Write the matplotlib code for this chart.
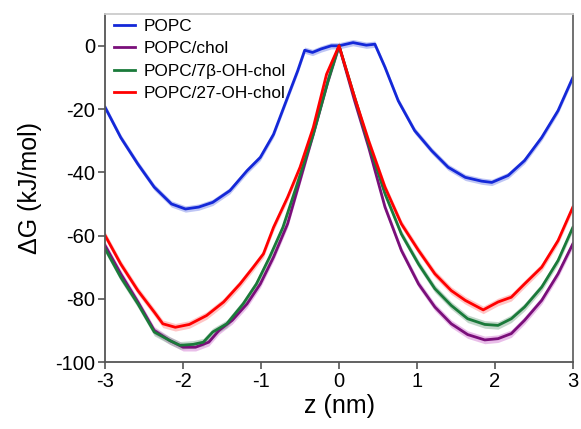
import matplotlib.pyplot as plt

plt.rcParams['font.family'] = ['Liberation Sans', 'DejaVu Sans']
plt.rcParams['axes.unicode_minus'] = False

# POPC
z_popc = [-3.0, -2.8, -2.58, -2.37, -2.15, -1.97, -1.8, -1.62, -1.4, -1.18, -1.01,
          -0.84, -0.66, -0.53, -0.44, -0.34, -0.23, -0.1, 0.0, 0.18, 0.35, 0.46,
          0.59, 0.76, 0.97, 1.19, 1.4, 1.62, 1.83, 1.96, 2.17, 2.38, 2.6, 2.81, 3.0]
g_popc = [-19.5, -29, -37.4, -44.7, -50, -51.6, -51, -49.5, -45.8, -39.5, -35.3,
          -28, -16.3, -7.9, -1.4, -2.1, -1.0, 0.0, 0.0, 1.0, 0.2, 0.5,
          -6.8, -17.4, -26.8, -33.2, -38.4, -41.6, -42.8, -43.2, -41, -36.3, -29, -20.5, -10]

# POPC/chol
z_chol = [-3.0, -2.8, -2.58, -2.37, -2.17, -2.0, -1.84, -1.67, -1.54, -1.37, -1.18,
          -1.01, -0.84, -0.66, -0.5, -0.33, -0.14, 0.0, 0.2, 0.38, 0.59, 0.8,
          1.02, 1.23, 1.44, 1.65, 1.87, 2.04, 2.21, 2.38, 2.6, 2.81, 3.0]
g_chol = [-63.2, -72.1, -81, -90, -93.2, -95.3, -95.3, -93.7, -90, -86.8, -81.6,
          -75.3, -66.8, -56.3, -42.6, -27.9, -11, 0.0, -17.4, -32.1, -51, -64.7,
          -75.3, -82.6, -87.9, -91.3, -93, -92.6, -91, -86.8, -80.5, -72.1, -62.6]

# POPC/7b-OH-chol
z_7b = [-3.0, -2.8, -2.58, -2.37, -2.17, -2.04, -1.87, -1.74, -1.62, -1.44, -1.23,
        -1.06, -0.89, -0.72, -0.55, -0.33, -0.14, 0.0, 0.2, 0.38, 0.59, 0.8,
        1.02, 1.23, 1.44, 1.65, 1.87, 2.04, 2.21, 2.38, 2.6, 2.81, 3.0]
g_7b = [-64.2, -73.2, -81.6, -90.5, -93.2, -94.7, -94.4, -93.7, -90.5, -87.9, -81.6,
        -75.3, -66.8, -57.4, -44.7, -27.9, -11, 0.0, -16.3, -31, -46.8, -59.5,
        -69, -76.8, -82.1, -86.3, -88.1, -88.4, -86.3, -82.6, -76.3, -67.9, -57.4]

# POPC/27-OH-chol
z_27 = [-3.0, -2.8, -2.58, -2.37, -2.26, -2.1, -1.92, -1.7, -1.48, -1.27, -1.1,
        -0.97, -0.84, -0.66, -0.5, -0.33, -0.16, 0.0, 0.2, 0.38, 0.59, 0.8,
        1.02, 1.23, 1.44, 1.62, 1.85, 2.04, 2.21, 2.38, 2.6, 2.81, 3.0]
g_27 = [-60, -69, -77.4, -84.2, -87.9, -89, -88.1, -85.3, -81, -75.3, -70,
        -65.8, -57.4, -47.9, -38.4, -25.8, -9, 0.0, -16.3, -30, -44.7, -56.3,
        -64.7, -72.1, -77.4, -80.5, -83.5, -81, -79.5, -75.3, -70, -61.6, -51]

labels = ['POPC', 'POPC/chol', 'POPC/7β-OH-chol', 'POPC/27-OH-chol']
errors = [1.0, 1.2, 1.2, 1.2]  # approx. half-width of shaded error bands
line_colors = ['#1428d8', '#7a0f7a', '#1a7a3a', '#ff0000']
band_colors = ['#6f7fe8', '#d070d0', '#7aa88a', '#ff8080']

fig = plt.figure(figsize=(5.81, 4.29), dpi=100)
ax = fig.add_axes([0.181, 0.156, 0.805, 0.811])

series = [(z_popc, g_popc), (z_chol, g_chol), (z_7b, g_7b), (z_27, g_27)]
for (z, g), lab, err, lc, bc in zip(series, labels, errors, line_colors, band_colors):
    lo = [v - err for v in g]
    hi = [v + err for v in g]
    ax.fill_between(z, lo, hi, color=bc, alpha=0.45, linewidth=0)
    ax.plot(z, g, color=lc, lw=2.0, label=lab)

ax.set_xlim(-3, 3)
ax.set_ylim(-100, 10)
ax.set_xticks([-3, -2, -1, 0, 1, 2, 3])
ax.set_yticks([-100, -80, -60, -40, -20, 0])
ax.tick_params(axis='both', direction='out', length=5, width=1.2, color='#555555',
               labelsize=14.5, pad=2)
ax.set_xlabel('z (nm)', fontsize=18, labelpad=2)
ax.set_ylabel('ΔG (kJ/mol)', fontsize=18, labelpad=10)

ax.spines['left'].set_color('#555555')
ax.spines['bottom'].set_color('#555555')
ax.spines['right'].set_color('#666666')
ax.spines['top'].set_color('#cccccc')
for s in ax.spines.values():
    s.set_linewidth(1.3)

ax.legend(loc='upper left', frameon=False, fontsize=12.4, handlelength=1.2,
          handletextpad=0.5, labelspacing=0.42, borderaxespad=0.0,
          bbox_to_anchor=(0.005, 1.006))

fig.savefig('out.png', dpi=100)
